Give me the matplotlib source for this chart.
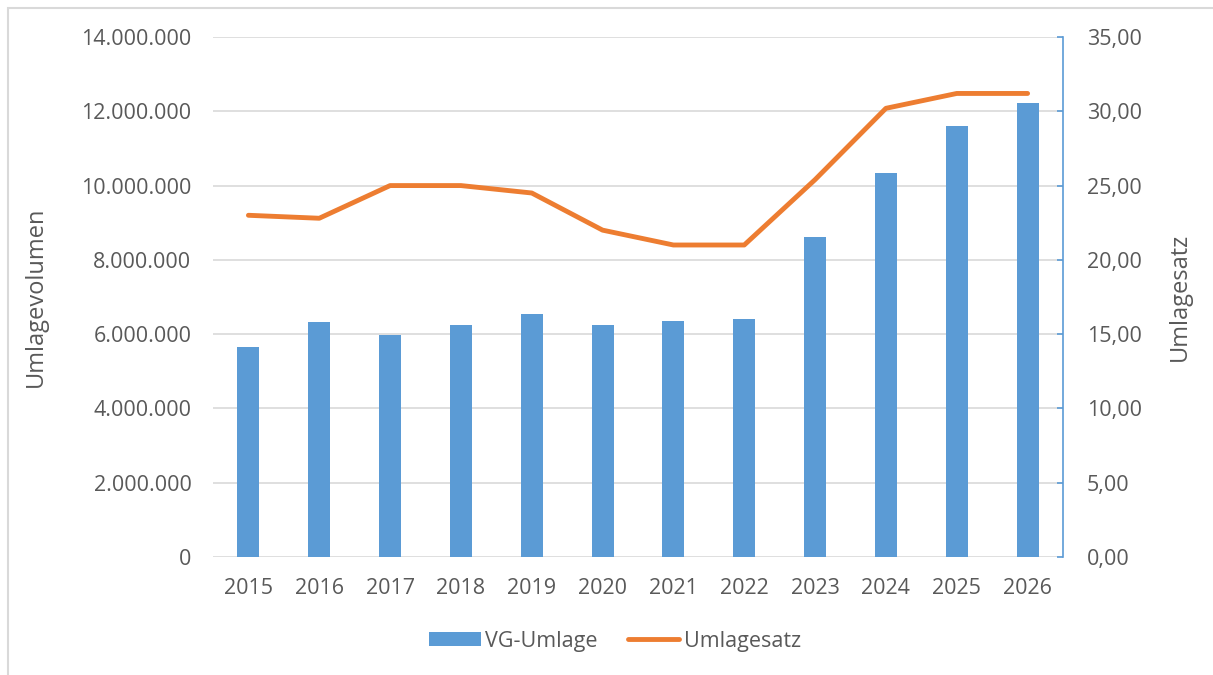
import numpy as np
import matplotlib.pyplot as plt
from matplotlib.patches import Rectangle
from matplotlib.ticker import FuncFormatter

# Daten
jahre = ["2015", "2016", "2017", "2018", "2019", "2020",
         "2021", "2022", "2023", "2024", "2025", "2026"]
vg_umlage = [5650000, 6330000, 5980000, 6250000, 6540000, 6250000,
             6350000, 6410000, 8620000, 10340000, 11600000, 12220000]
umlagesatz = [23.0, 22.8, 25.0, 25.0, 24.5, 22.0,
              21.0, 21.0, 25.4, 30.2, 31.2, 31.2]

blau = "#5B9BD5"
orange = "#ED7D31"
grau = "#595959"
fs = 15.5

plt.rcParams['font.family'] = ['Open Sans', 'DejaVu Sans']

fig = plt.figure(figsize=(12.13, 6.75), dpi=100)
# grauer Rahmen um das Diagramm
fig.patches.append(Rectangle((8/1213, -0.1), 1.2, 1.1 - 8/675, transform=fig.transFigure,
                             fill=False, edgecolor="#d9d9d9", linewidth=1.5))

ax = fig.add_axes([213/1213, 1 - 557/675, 850/1213, 520/675])
x = np.arange(len(jahre))
ax.bar(x, vg_umlage, width=0.31, color=blau, label="VG-Umlage", zorder=2)
ax.set_xlim(-0.5, len(jahre) - 0.5)
ax.set_ylim(0, 14000000)
ax.set_yticks(np.arange(0, 14000001, 2000000))
ax.yaxis.set_major_formatter(FuncFormatter(lambda v, p: f"{int(v):,}".replace(",", ".")))
ax.set_xticks(x)
ax.set_xticklabels(jahre)
ax.grid(axis='y', color="#d9d9d9", linewidth=1.2, zorder=0)
for s in ax.spines.values():
    s.set_visible(False)
ax.tick_params(axis='both', length=0, colors=grau, labelsize=fs)
ax.tick_params(axis='y', pad=15.5)
ax.tick_params(axis='x', pad=15)
ax.set_ylabel("Umlagevolumen", color=grau, fontsize=17, labelpad=24)

# zweite Achse: Umlagesatz
ax2 = ax.twinx()
ax2.plot(x, umlagesatz, color=orange, linewidth=3.5, solid_capstyle='round',
         label="Umlagesatz", zorder=3)
ax2.set_ylim(0, 35)
ax2.set_yticks(np.arange(0, 35.01, 5))
ax2.yaxis.set_major_formatter(FuncFormatter(lambda v, p: f"{v:.2f}".replace(".", ",")))
for k, s in ax2.spines.items():
    s.set_visible(k == "right")
ax2.spines["right"].set_color(blau)
ax2.spines["right"].set_linewidth(1.2)
ax2.tick_params(axis='y', colors=blau, length=4, width=1.2, direction='in', pad=17,
                labelcolor=grau, labelsize=fs)
ax2.set_ylabel("Umlagesatz", color=grau, fontsize=17, labelpad=19)

h1, l1 = ax.get_legend_handles_labels()
h2, l2 = ax2.get_legend_handles_labels()
fig.legend(h1 + h2, l1 + l2, loc='center', bbox_to_anchor=(615/1213, 1 - 641/675),
           ncol=2, frameon=False, fontsize=fs, labelcolor=grau,
           handlelength=2.4, handleheight=0.6, handletextpad=0.2, columnspacing=1.4)

fig.savefig("out.png", dpi=100)
